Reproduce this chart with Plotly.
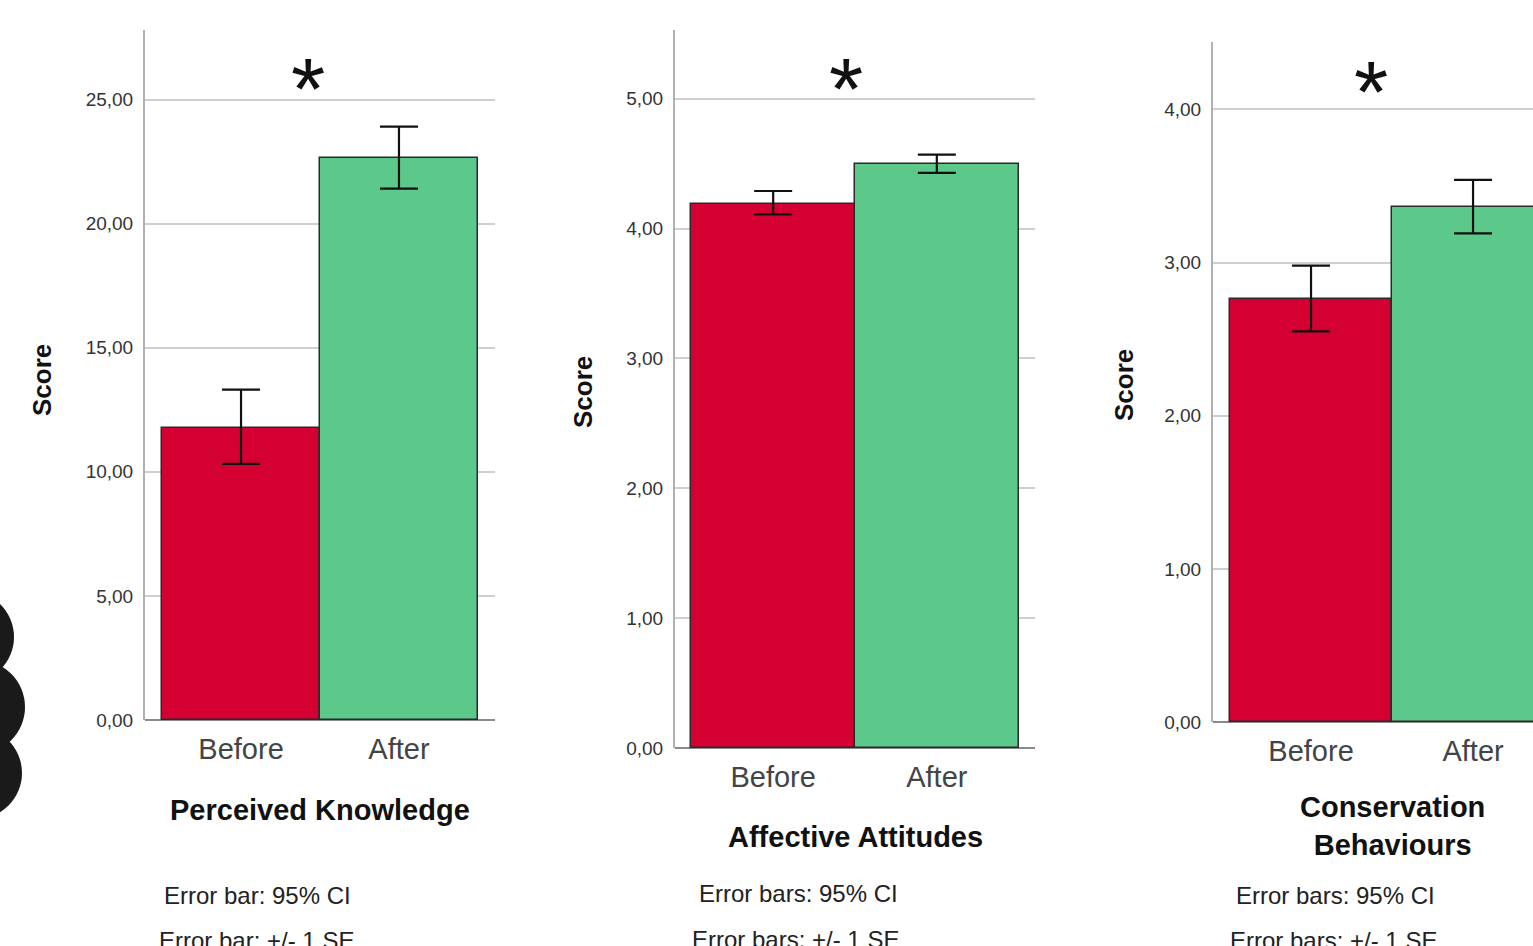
import plotly.graph_objects as go

# ---- data ----
categories = ["Before", "After"]
panel_titles = ["Perceived Knowledge", "Affective Attitudes", "Conservation<br>Behaviours"]
means = [[11.77, 22.66], [4.19, 4.50], [2.765, 3.36]]
upper = [[13.31, 23.91], [4.29, 4.57], [2.98, 3.54]]
lower = [[10.32, 21.41], [4.11, 4.43], [2.55, 3.19]]
y_max = [27.8, 5.53, 4.44]
y_dtick = [5, 1, 1]
foot1 = ["Error bar: 95% CI", "Error bars: 95% CI", "Error bars: 95% CI"]
foot2 = ["Error bar: +/- 1 SE", "Error bars: +/- 1 SE", "Error bars: +/- 1 SE"]
bar_colors = ["#d50032", "#5cc98a"]

W, H = 1533, 946
FONT = "Arial, Liberation Sans, sans-serif"

# layout geometry (pixels)
x_dom_px = [(145, 495), (675, 1035), (1213, 1533)]
y_dom_px = [(30, 720), (30, 748), (42, 722)]
x_ranges = [[-0.608, 1.608], [-0.6, 1.6], [-0.605, 1.37]]

fig = go.Figure()
positions = list(range(len(categories)))

for i in range(3):
    ax = "" if i == 0 else str(i + 1)
    fig.add_trace(go.Bar(
        x=positions, y=means[i], width=1.0,
        marker=dict(color=bar_colors, line=dict(color="#2a2a2a", width=1.5)),
        error_y=dict(type="data", symmetric=False,
                     array=[u - m for u, m in zip(upper[i], means[i])],
                     arrayminus=[m - l for m, l in zip(means[i], lower[i])],
                     color="#111111", thickness=2.2, width=19),
        xaxis="x" + ax, yaxis="y" + ax, showlegend=False, hoverinfo="skip"))
    xd = x_dom_px[i]
    yd = y_dom_px[i]
    fig.update_layout(**{
        "xaxis" + ax: dict(domain=[xd[0] / W, xd[1] / W], range=x_ranges[i],
                           anchor="y" + ax, tickvals=positions, ticktext=categories,
                           showgrid=False, zeroline=False, showline=False, ticks="",
                           tickfont=dict(size=29, color="#444444", family=FONT),
                           ticklabelstandoff=9, fixedrange=True, automargin=False),
        "yaxis" + ax: dict(domain=[1 - yd[1] / H, 1 - yd[0] / H], range=[0, y_max[i]],
                           anchor="x" + ax, dtick=y_dtick[i], tickformat=".2f",
                           showgrid=True, gridcolor="#cfcfcf", gridwidth=1.5,
                           zeroline=True, zerolinecolor="#8a8a8a", zerolinewidth=2,
                           showline=True, linecolor="#b0b0b0", linewidth=2, ticks="",
                           tickfont=dict(size=19, color="#333333", family=FONT),
                           ticklabelstandoff=6, fixedrange=True, automargin=False),
    })

# annotations
ann = []
star_pos = [(308, 76), (846, 76), (1371, 80)]
score_pos = [(42, 380), (583, 392), (1124, 385)]
title_pos = [(320, 810), (855, 837), (1392, 826)]
foot1_pos = [(162, 895), (697, 893), (1234, 895)]
foot2_pos = [(157, 940), (690, 939), (1228, 940)]


def P(x, y):
    return dict(x=x / W, y=1 - y / H, xref="paper", yref="paper", showarrow=False,
                xanchor="center", yanchor="middle")


for i in range(3):
    a = P(*star_pos[i])
    a.update(text="*", font=dict(size=88, color="#111111", family=FONT), yshift=-12)
    ann.append(a)
    a = P(*score_pos[i])
    a.update(text="<b>Score</b>", textangle=-90, font=dict(size=26, color="#111111", family=FONT))
    ann.append(a)
    a = P(*title_pos[i])
    a.update(text="<b>" + panel_titles[i] + "</b>", font=dict(size=29, color="#111111", family=FONT))
    ann.append(a)
    a = P(*foot1_pos[i])
    a.update(text=foot1[i], xanchor="left", font=dict(size=24, color="#222222", family=FONT))
    ann.append(a)
    a = P(*foot2_pos[i])
    a.update(text=foot2[i], xanchor="left", font=dict(size=24, color="#222222", family=FONT))
    ann.append(a)

# decorative dark blobs at left edge
shapes = []
for cx, cy, r in [(-32, 637, 46), (-22, 707, 47), (-24, 773, 46)]:
    shapes.append(dict(type="circle", xref="paper", yref="paper",
                       x0=(cx - r) / W, x1=(cx + r) / W, y0=1 - (cy + r) / H, y1=1 - (cy - r) / H,
                       fillcolor="#1a1a1a", line=dict(width=0), layer="above"))

fig.update_layout(width=W, height=H, margin=dict(l=0, r=0, t=0, b=0, autoexpand=False),
                  paper_bgcolor="white", plot_bgcolor="white", separators=",.",
                  annotations=ann, shapes=shapes, bargap=0)

fig.write_html("out.html", config={"displayModeBar": False},
               post_script="document.body.style.margin='0';document.body.style.overflow='hidden';")
